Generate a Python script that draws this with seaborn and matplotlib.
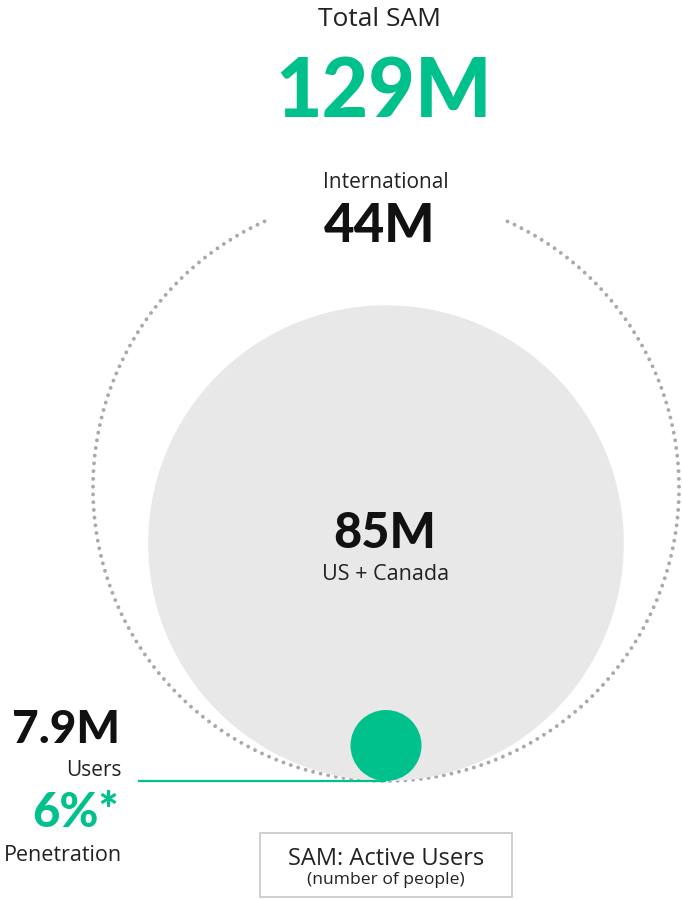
import numpy as np
import matplotlib
matplotlib.use("Agg")
import matplotlib.pyplot as plt
from matplotlib.patches import Circle, Rectangle
import seaborn as sns
import pandas as pd

# ---- data ----
segments = ["Total SAM", "International", "US + Canada"]
sam_values_m = [129, 44, 85]
users_m = 7.9
penetration_pct = 6
box_title = "SAM: Active Users"
box_subtitle = "(number of people)"

GREEN = "#00c08b"
GRAY_FILL = "#e8e8e8"
DOT_GRAY = "#a9a9a9"
TXT = "#222222"

sns.set_theme(style="white")
plt.rcParams["font.family"] = ["Open Sans", "DejaVu Sans"]

W, H = 683, 899
fig = plt.figure(figsize=(W / 100, H / 100), dpi=100)
ax = fig.add_axes([0, 0, 1, 1])

total, intl, us = sam_values_m
cx = 386
base_y = 781
scale = 293 / np.sqrt(total)          # area-proportional circles
r_outer = scale * np.sqrt(total)
r_us = scale * np.sqrt(us)
r_users = 35.5

# outer dotted circle (total SAM), with a gap at the top for its label
outer_cy = base_y - r_outer
gap_half = np.deg2rad(24.5)
n_dots = int((2 * np.pi - 2 * gap_half) * r_outer / 7.7)
theta = np.linspace(gap_half, 2 * np.pi - gap_half, n_dots)
dots = pd.DataFrame({"x": cx + r_outer * np.sin(theta),
                     "y": outer_cy - r_outer * np.cos(theta)})
sns.scatterplot(data=dots, x="x", y="y", ax=ax, s=7.5, color=DOT_GRAY,
                edgecolor="none", legend=False, zorder=1)

# US + Canada filled circle
ax.add_patch(Circle((cx, base_y - r_us), r_us, facecolor=GRAY_FILL,
                    edgecolor="none", zorder=2))

# users green line + circle
ax.plot([138, cx], [base_y, base_y], color=GREEN, linewidth=1.6,
        solid_capstyle="butt", zorder=3)
users_df = pd.DataFrame({"x": [cx], "y": [base_y - r_users]})
sns.scatterplot(data=users_df, x="x", y="y", ax=ax, s=(2 * r_users * 0.72) ** 2,
                color=GREEN, edgecolor="none", legend=False, zorder=4)

ax.set_xlim(0, W)
ax.set_ylim(H, 0)
ax.axis("off")

NUM = ["Lato", "DejaVu Sans"]

# top
ax.text(380, 26, segments[0], ha="center", va="baseline", fontsize=19, color=TXT)
ax.text(384, 117, f"{total}M", ha="center", va="baseline", fontsize=58,
        fontweight="black", family=NUM, color=GREEN)
ax.text(cx, 188, segments[1], ha="center", va="baseline", fontsize=15, color=TXT)
ax.text(380, 242, f"{intl}M", ha="center", va="baseline", fontsize=38,
        fontweight="black", family=NUM, color="#111111")
# center
ax.text(385, 548, f"{us}M", ha="center", va="baseline", fontsize=35,
        fontweight="black", family=NUM, color="#111111")
ax.text(cx, 580, segments[2], ha="center", va="baseline", fontsize=15.5, color=TXT)

# left labels
ax.text(120, 743, f"{users_m}M", ha="right", va="baseline", fontsize=33,
        fontweight="black", family=NUM, color="#111111")
ax.text(122, 776, "Users", ha="right", va="baseline", fontsize=15, color=TXT)
ax.text(119, 827, f"{penetration_pct}%*", ha="right", va="baseline", fontsize=34,
        fontweight="black", family=NUM, color=GREEN)
ax.text(122, 861, "Penetration", ha="right", va="baseline", fontsize=15.5, color=TXT)

# legend box
ax.add_patch(Rectangle((260, 833), 252, 64, facecolor="white", edgecolor="#cccccc",
                       linewidth=1.3))
ax.text(cx, 865, box_title, ha="center", va="baseline", fontsize=17, color=TXT)
ax.text(cx, 884, box_subtitle, ha="center", va="baseline", fontsize=12.6, color=TXT)

fig.savefig("out.png", dpi=100)
